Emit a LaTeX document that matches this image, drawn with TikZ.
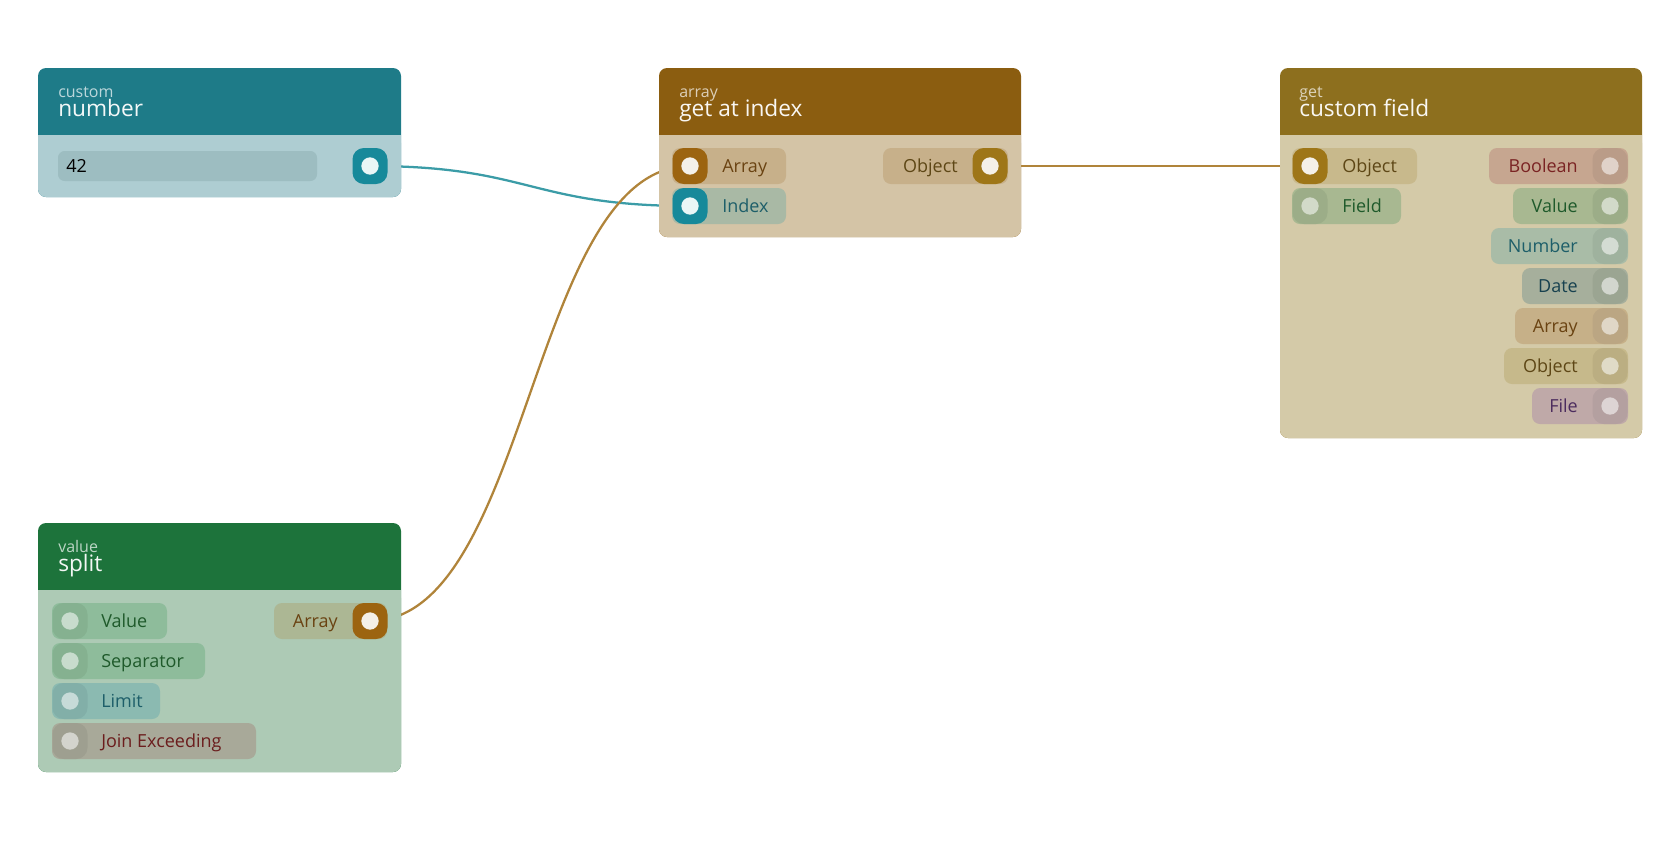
\documentclass[tikz,border=0pt]{standalone}
\usepackage{fontspec}
\setmainfont{Open Sans}
\usetikzlibrary{positioning, backgrounds}
\usepackage{xcolor}

\definecolor{numhdr}{HTML}{1E7B88}
\definecolor{numbody}{HTML}{AECDD2}
\definecolor{numfield}{HTML}{9DBDC1}
\definecolor{tealport}{HTML}{17899A}
\definecolor{gaihdr}{HTML}{8B5D10}
\definecolor{gaibody}{HTML}{D4C4A6}
\definecolor{cfhdr}{HTML}{8D6F1E}
\definecolor{cfbody}{HTML}{D4CAA8}
\definecolor{splhdr}{HTML}{1D733B}
\definecolor{splbody}{HTML}{ADCAB5}
\definecolor{arrpill}{HTML}{C7B08A}
\definecolor{arrport}{HTML}{9C6410}
\definecolor{objport}{HTML}{9E7618}
\definecolor{idxpill}{HTML}{A9B9A5}
\definecolor{arrtext}{HTML}{6A4312}
\definecolor{objtext}{HTML}{5E4716}
\definecolor{numtext}{HTML}{1D5E69}
\definecolor{cfobjpill}{HTML}{C8B98C}
\definecolor{valpill}{HTML}{A8B891}
\definecolor{valport}{HTML}{9CAD88}
\definecolor{valtext}{HTML}{1F5A2B}
\definecolor{boolpill}{HTML}{C6A690}
\definecolor{boolport}{HTML}{BA9C88}
\definecolor{booltext}{HTML}{7A2323}
\definecolor{nbrpill}{HTML}{A9BCA7}
\definecolor{nbrport}{HTML}{9FB29E}
\definecolor{datepill}{HTML}{A6AF9C}
\definecolor{dateport}{HTML}{9BA592}
\definecolor{datetext}{HTML}{17414F}
\definecolor{carrpill}{HTML}{C6B088}
\definecolor{carrport}{HTML}{BBA683}
\definecolor{cobjpill}{HTML}{C6B98B}
\definecolor{cobjport}{HTML}{BBAE82}
\definecolor{filepill}{HTML}{BFA9A8}
\definecolor{fileport}{HTML}{B4A0A0}
\definecolor{filetext}{HTML}{4C2C5E}
\definecolor{splarrpill}{HTML}{ACB794}
\definecolor{grnpill}{HTML}{8EBC9B}
\definecolor{grnport}{HTML}{85B190}
\definecolor{limpill}{HTML}{8BBAB1}
\definecolor{limport}{HTML}{82AFA8}
\definecolor{joinpill}{HTML}{A8A999}
\definecolor{joinport}{HTML}{9E9F90}
\definecolor{jointext}{HTML}{6B1D1D}
\definecolor{dotw}{HTML}{F4F0E8}
\definecolor{dott}{HTML}{EAF6F6}
\definecolor{tealwire}{HTML}{3B9CA7}
\definecolor{brnwire}{HTML}{B0843A}

\begin{document}
\begin{tikzpicture}[x=0.75pt, y=-0.75pt,
	hdrsmall/.style={anchor=base west, inner sep=0pt, text=white, text opacity=0.7, font=\fontsize{12}{13}\selectfont},
	hdrbig/.style={anchor=base west, inner sep=0pt, text=white, text opacity=0.95, font=\fontsize{17}{19}\selectfont},
	port/.style 2 args={rectangle, rounded corners=8.5pt, minimum width=26.25pt, minimum height=27pt, inner sep=0pt, fill=#1,
		path picture={\fill[#2] (path picture bounding box.center) circle (6.5pt);}},
	inlbl/.style={anchor=west, inner sep=0pt, text height=12.2pt, text depth=2.5pt, font=\fontsize{13.5}{15}\selectfont},
	outlbl/.style={anchor=east, inner sep=0pt, text height=12.2pt, text depth=2.5pt, font=\fontsize{13.5}{15}\selectfont},
	pill/.style={rounded corners=6pt},
	wire/.style={line width=1.7pt}]
				\useasboundingbox (0,0) rectangle (1680,840);
				% custom number
				\fill[numhdr, rounded corners=6pt] (38,68) rectangle (401,197);
				\fill[numbody, rounded corners=6pt] (38,135) rectangle (401,197);
				\fill[numbody] (38,135) rectangle (401,150);
				\node[hdrsmall] (numKind) at (58,97) {custom};
				\node[hdrbig] (numTitle) at (58,116) {number};
				\fill[numfield, rounded corners=5pt] (58,151) rectangle (317,181);
				\node[inlbl, text=black] (numVal) at (66,166) {42};
				\node[port={tealport}{dott}] (numOut) at (370,166) {};
				% get at index
				\fill[gaihdr, rounded corners=6pt] (659,68) rectangle (1021,237);
				\fill[gaibody, rounded corners=6pt] (659,135) rectangle (1021,237);
				\fill[gaibody] (659,135) rectangle (1021,150);
				\node[hdrsmall] (gaiKind) at (679,97) {array};
				\node[hdrbig] (gaiTitle) at (679,116) {get at index};
				\fill[arrpill, pill] (672,148) rectangle (786,184);
				\node[port={arrport}{dotw}] (gaiArr) at (690,166) {};
				\node[inlbl, text=arrtext] (gaiArrL) at (722,166) {Array};
				\fill[idxpill, pill] (672,188) rectangle (786,224);
				\node[port={tealport}{dott}] (gaiIdx) at (690,206) {};
				\node[inlbl, text=numtext] (gaiIdxL) at (722,206) {Index};
				\fill[arrpill, pill] (883,148) rectangle (1008,184);
				\node[port={objport}{dotw}] (gaiObj) at (990,166) {};
				\node[outlbl, text=objtext] (gaiObjL) at (958,166) {Object};
				% get custom field
				\fill[cfhdr, rounded corners=6pt] (1280,68) rectangle (1642,438);
				\fill[cfbody, rounded corners=6pt] (1280,135) rectangle (1642,438);
				\fill[cfbody] (1280,135) rectangle (1642,150);
				\node[hdrsmall] (cfKind) at (1299,97) {get};
				\node[hdrbig] (cfTitle) at (1299,116) {custom field};
				\fill[cfobjpill, pill] (1292,148) rectangle (1417,184);
				\node[port={objport}{dotw}] (cfObj) at (1310,166) {};
				\node[inlbl, text=objtext] (cfObjL) at (1342,166) {Object};
				\fill[valpill, pill] (1292,188) rectangle (1401,224);
				\node[port={valport}{white!55!valport}] (cfFld) at (1310,206) {};
				\node[inlbl, text=valtext] (cfFldL) at (1342,206) {Field};
				\foreach \y/\x/\lbl/\pc/\qc/\tc in {166/1489/Boolean/boolpill/boolport/booltext,
						206/1513/Value/valpill/valport/valtext,
						246/1491/Number/nbrpill/nbrport/numtext,
						286/1522/Date/datepill/dateport/datetext,
						326/1515/Array/carrpill/carrport/arrtext,
						366/1504/Object/cobjpill/cobjport/objtext,
						406/1532/File/filepill/fileport/filetext}{
					\fill[\pc, pill] (\x,\y-18) rectangle (1628,\y+18);
					\node[port={\qc}{white!55!\qc}] (cfOut\lbl) at (1610,\y) {};
					\node[outlbl, text=\tc] (cfOutL\lbl) at (1578,\y) {\lbl};
				}
				% value split
				\fill[splhdr, rounded corners=6pt] (38,523) rectangle (401,772);
				\fill[splbody, rounded corners=6pt] (38,590) rectangle (401,772);
				\fill[splbody] (38,590) rectangle (401,605);
				\node[hdrsmall] (spKind) at (58,552) {value};
				\node[hdrbig] (spTitle) at (58,571) {split};
				\fill[splarrpill, pill] (274,603) rectangle (387,639);
				\node[port={arrport}{dotw}] (spArr) at (370,621) {};
				\node[outlbl, text=arrtext] (spArrL) at (338,621) {Array};
				\foreach \y/\x/\lbl/\pc/\qc/\tc in {621/167/Value/grnpill/grnport/valtext,
						661/205/Separator/grnpill/grnport/valtext,
						701/160/Limit/limpill/limport/numtext,
						741/256/Join Exceeding/joinpill/joinport/jointext}{
					\fill[\pc, pill] (52,\y-18) rectangle (\x,\y+18);
					\node[port={\qc}{white!55!\qc}] (spIn\lbl) at (70,\y) {};
					\node[inlbl, text=\tc] (spInL\lbl) at (101,\y) {\lbl};
				}
				% wires
				\begin{pgfonlayer}{background}
					\fill[white] (0,0) rectangle (1680,840);
					\draw[wire, tealwire] (numOut.center) .. controls +(160,0) and +(-160,0) .. (gaiIdx.center);
					\draw[wire, brnwire] (spArr.center) .. controls +(160,0) and +(-160,0) .. (gaiArr.center);
					\draw[wire, brnwire] (gaiObj.center) -- (cfObj.center);
				\end{pgfonlayer}
			\end{tikzpicture}
\end{document}
